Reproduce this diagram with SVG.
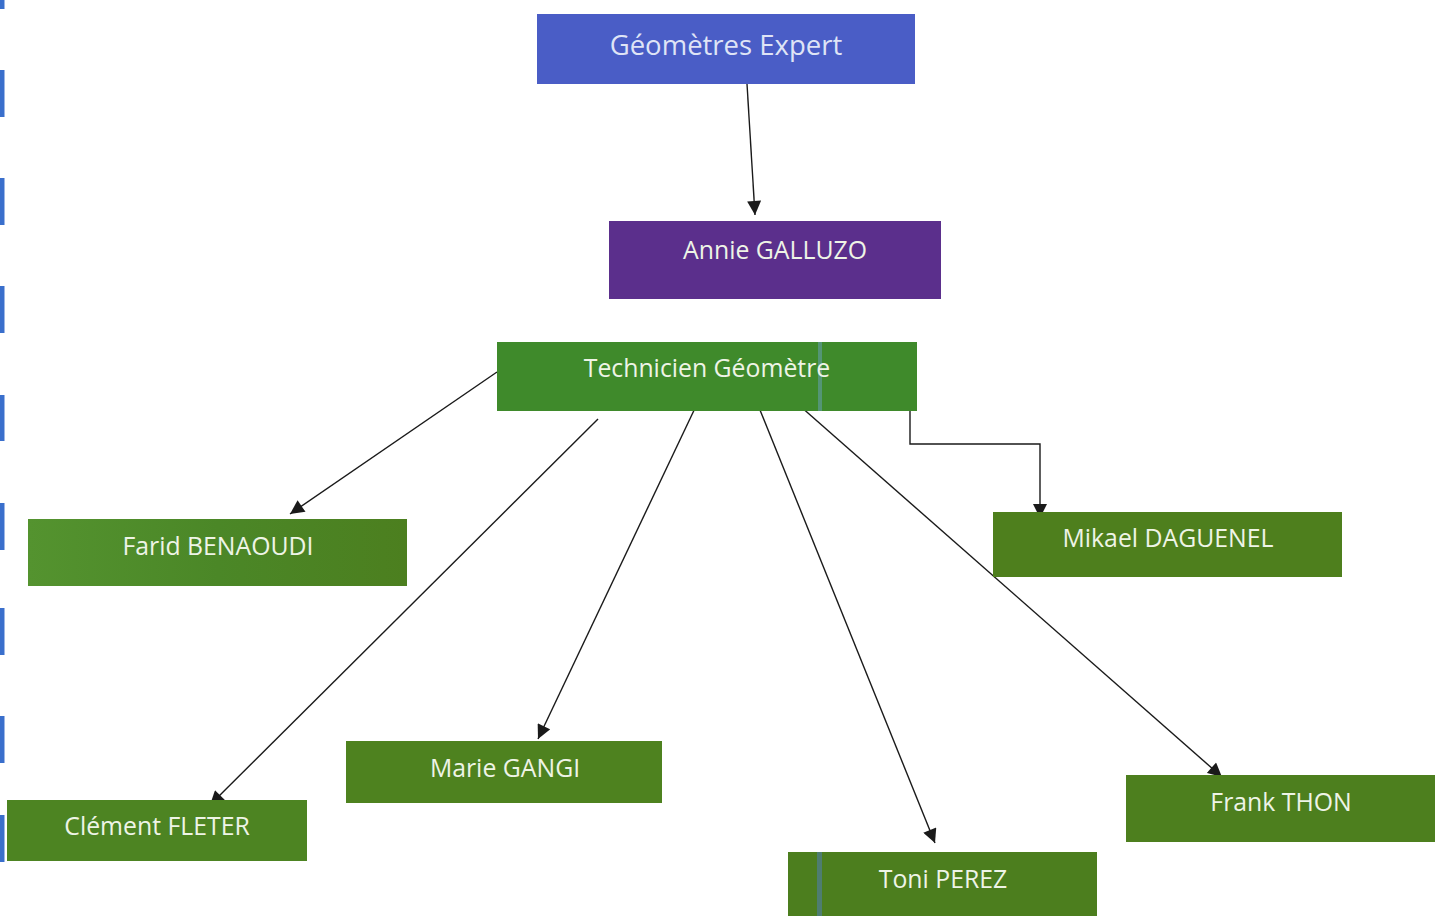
<svg xmlns="http://www.w3.org/2000/svg" width="1443" height="916" viewBox="0 0 1443 916">
<style>
.lbl{font-family:"Open Sans","Liberation Sans",sans-serif;font-size:24.8px;fill:#eef4e6;text-anchor:middle}
.con{stroke:#1a1a1a;stroke-width:1.4;fill:none}
</style>
<defs>
<marker id="ah" viewBox="0 0 10 10" refX="10" refY="5" markerWidth="15" markerHeight="14" markerUnits="userSpaceOnUse" orient="auto">
<path d="M0,0 L10,5 L0,10 z" fill="#1a1a1a"/>
</marker>
<linearGradient id="gg" x1="0" y1="0" x2="1" y2="0">
<stop offset="0" stop-color="#54932f"/>
<stop offset="0.5" stop-color="#4b8727"/>
<stop offset="1" stop-color="#4c7f1f"/>
</linearGradient>
</defs>
<rect width="1443" height="916" fill="#ffffff"/>
<g id="scan-edge">
<line x1="2" y1="0" x2="2" y2="9" stroke="#3a6fcc" stroke-width="5"/>
<line x1="2" y1="70" x2="2" y2="117" stroke="#3a6fcc" stroke-width="5"/>
<line x1="2" y1="178" x2="2" y2="225" stroke="#3a6fcc" stroke-width="5"/>
<line x1="2" y1="286" x2="2" y2="333" stroke="#3a6fcc" stroke-width="5"/>
<line x1="2" y1="395" x2="2" y2="441" stroke="#3a6fcc" stroke-width="5"/>
<line x1="2" y1="503" x2="2" y2="550" stroke="#3a6fcc" stroke-width="5"/>
<line x1="2" y1="608" x2="2" y2="655" stroke="#3a6fcc" stroke-width="5"/>
<line x1="2" y1="716" x2="2" y2="763" stroke="#3a6fcc" stroke-width="5"/>
<line x1="2" y1="815" x2="2" y2="862" stroke="#3a6fcc" stroke-width="5"/>
</g>
<g id="connectors">
<line class="con" x1="747" y1="84" x2="755" y2="215" marker-end="url(#ah)"/>
<line class="con" x1="497" y1="372" x2="290" y2="514" marker-end="url(#ah)"/>
<line class="con" x1="598" y1="419" x2="210" y2="805" marker-end="url(#ah)"/>
<line class="con" x1="697" y1="404" x2="538" y2="739" marker-end="url(#ah)"/>
<line class="con" x1="760" y1="410" x2="935" y2="843" marker-end="url(#ah)"/>
<line class="con" x1="800" y1="406" x2="1222" y2="777" marker-end="url(#ah)"/>
<polyline class="con" points="910,372 910,444 1040,444 1040,518" marker-end="url(#ah)"/>
</g>
<g id="n-geometres">
<rect x="537" y="14" width="378" height="70" fill="#4a5dc6"/>
<text class="lbl" x="726" y="55" style="font-size:27.5px;fill:#dfe4f6">Géomètres Expert</text>
</g>
<g id="n-annie">
<rect x="609" y="221" width="332" height="78" fill="#5b2f8c"/>
<text class="lbl" x="775" y="259">Annie GALLUZO</text>
</g>
<g id="n-technicien">
<rect x="497" y="342" width="420" height="69" fill="#3f8a2b"/>
<rect x="818" y="342" width="4" height="69" fill="#6aa0c0" opacity="0.5"/>
<text class="lbl" x="707" y="377">Technicien Géomètre</text>
</g>
<g id="n-farid">
<rect x="28" y="519" width="379" height="67" fill="url(#gg)"/>
<text class="lbl" x="218" y="555">Farid BENAOUDI</text>
</g>
<g id="n-marie">
<rect x="346" y="741" width="316" height="62" fill="#4e821f"/>
<text class="lbl" x="505" y="777">Marie GANGI</text>
</g>
<g id="n-clement">
<rect x="7" y="800" width="300" height="61" fill="#4d8422"/>
<text class="lbl" x="157" y="835">Clément FLETER</text>
</g>
<g id="n-mikael">
<rect x="993" y="512" width="349" height="65" fill="#4e7f1d"/>
<text class="lbl" x="1168" y="547">Mikael DAGUENEL</text>
</g>
<g id="n-frank">
<rect x="1126" y="775" width="309" height="67" fill="#4d7f1e"/>
<text class="lbl" x="1281" y="811">Frank THON</text>
</g>
<g id="n-toni">
<rect x="788" y="852" width="309" height="64" fill="#4c7e1e"/>
<rect x="817" y="852" width="5" height="64" fill="#4f7d84" opacity="0.8"/>
<text class="lbl" x="943" y="888">Toni PEREZ</text>
</g>
</svg>
